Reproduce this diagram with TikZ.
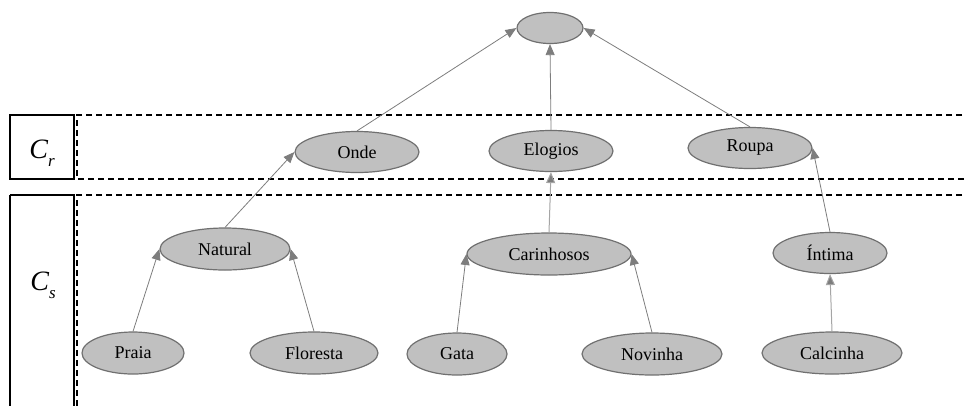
\documentclass[tikz,border=0pt]{standalone}
\usepackage{fontspec}
\setmainfont{Liberation Serif}
\usetikzlibrary{shapes.geometric,arrows.meta}

\definecolor{nodefill}{RGB}{192,192,192}
\definecolor{nodeedge}{RGB}{112,112,112}
\definecolor{linkgray}{RGB}{125,125,125}
\definecolor{linklight}{RGB}{165,165,165}

\tikzset{
  concept/.style={ellipse, draw=nodeedge, fill=nodefill, line width=1.2pt,
    inner sep=0pt, font=\fontsize{18}{21}\selectfont},
  link/.style={draw=linkgray, line width=0.8pt,
    -{Triangle[length=11pt,width=9pt,fill=linkgray]}},
  linklt/.style={draw=linklight, line width=1pt,
    -{Triangle[length=11pt,width=9pt,fill=linkgray]}},
  layerline/.style={dash pattern=on 6pt off 4pt, line width=1.4pt},
  layerbox/.style={draw, line width=1.4pt},
  layerlabel/.style={font=\fontsize{28}{30}\selectfont\itshape, inner sep=0pt}
}

\begin{document}
\begin{tikzpicture}[x=1pt,y=-1pt]
  \useasboundingbox (0,0) rectangle (965,405);

  % layer bands
  \draw[layerbox] (10,115) rectangle (74,179);
  \draw[layerbox] (10,195) -- (10,410) (74,410) -- (74,195) -- (10,195);
  \draw[layerline] (972,115) -- (77,115) -- (77,179) -- (972,179);
  \draw[layerline] (972,195) -- (77,195) -- (77,410);
  \node[layerlabel] (crlabel) at (42,153) {C\raisebox{-0.28em}{\fontsize{17}{17}\selectfont r}};
  \node[layerlabel] (cslabel) at (43,285) {C\raisebox{-0.28em}{\fontsize{17}{17}\selectfont s}};

  % concepts
  \node[concept, minimum width=66pt, minimum height=31pt] (root) at (550,28) {};
  \node[concept, minimum width=124pt, minimum height=41pt] (onde) at (357,152) {Onde};
  \node[concept, minimum width=124pt, minimum height=41pt] (elogios) at (551,151) {Elogios};
  \node[concept, minimum width=124pt, minimum height=41pt] (roupa) at (750,148) {Roupa};
  \node[concept, minimum width=130pt, minimum height=42pt] (natural) at (225,249) {Natural};
  \node[concept, minimum width=164pt, minimum height=42pt] (carinhosos) at (549,254) {Carinhosos};
  \node[concept, minimum width=114pt, minimum height=41pt] (intima) at (830,253) {Íntima};
  \node[concept, minimum width=102pt, minimum height=42pt] (praia) at (133,353) {Praia};
  \node[concept, minimum width=128pt, minimum height=42pt] (floresta) at (314,353) {Floresta};
  \node[concept, minimum width=100pt, minimum height=42pt] (gata) at (457,354) {Gata};
  \node[concept, minimum width=140pt, minimum height=42pt] (novinha) at (652,354) {Novinha};
  \node[concept, minimum width=140pt, minimum height=42pt] (calcinha) at (832,353) {Calcinha};

  % links
  \draw[link] (onde.north) -- (root.west);
  \draw[link] (elogios.north) -- (root.south);
  \draw[link] (roupa.north) -- (root.east);
  \draw[link] (natural.north) -- (onde.west);
  \draw[linklt] (carinhosos.north) -- (elogios.south);
  \draw[link] (intima.north) -- (roupa.east);
  \draw[link] (praia.north) -- (natural.west);
  \draw[link] (floresta.north) -- (natural.east);
  \draw[link] (gata.north) -- (carinhosos.west);
  \draw[link] (novinha.north) -- (carinhosos.east);
  \draw[linklt] (calcinha.north) -- (intima.south);
\end{tikzpicture}
\end{document}
